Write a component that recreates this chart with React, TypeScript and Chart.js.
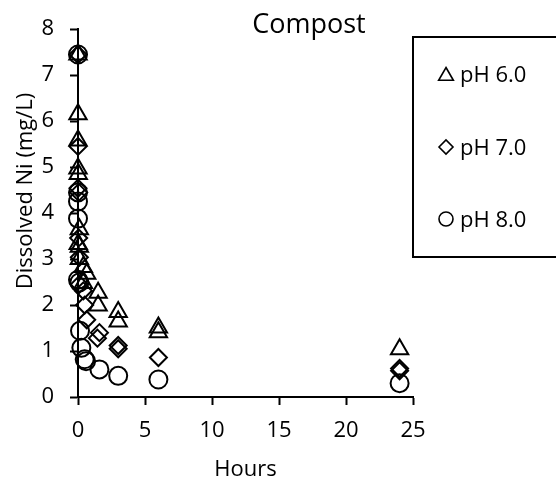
import { useEffect, useRef } from "react";
import { Chart, registerables } from "chart.js";

Chart.register(...registerables);

const chartTitle = "Compost";
const xTitle = "Hours";
const yTitle = "Dissolved Ni (mg/L)";
const seriesLabels = ["pH 6.0", "pH 7.0", "pH 8.0"];
const seriesShapes = ["triangle", "rectRot", "circle"];

const hoursPH6 = [0, 0, 0, 0, 0.02, 0.1, 0.02, 0.1, 0.1, 0.4, 0.65, 0.4, 1.5, 1.5, 3, 3, 6, 6, 24];
const niPH6 = [7.45, 6.15, 5.58, 4.97, 4.85, 3.65, 3.33, 3.27, 3.0, 2.83, 2.68, 2.48, 2.27, 1.99, 1.85, 1.64, 1.51, 1.41, 1.04];

const hoursPH7 = [0, 0, 0, 0.05, 0.05, 0.1, 0.1, 0.4, 0.5, 0.65, 1.6, 1.45, 3, 3, 6, 24, 24];
const niPH7 = [7.45, 5.45, 4.54, 4.45, 3.46, 3.04, 2.45, 2.31, 2.0, 1.68, 1.4, 1.28, 1.12, 1.05, 0.86, 0.62, 0.57];

const hoursPH8 = [0, 0, 0, 0, 0, 0.1, 0.15, 0.25, 0.5, 0.6, 1.6, 3, 6, 24];
const niPH8 = [7.45, 4.45, 4.25, 3.88, 2.55, 2.49, 1.44, 1.07, 0.82, 0.78, 0.6, 0.46, 0.38, 0.3];

const xMin = 0;
const xMax = 25;
const xStep = 5;
const yMin = 0;
const yMax = 8;
const yStep = 1;

const FONT = "'Open Sans'";

function toPoints(xs: number[], ys: number[]) {
  return xs.map((x, i) => ({ x, y: ys[i] }));
}

function drawMarker(ctx: CanvasRenderingContext2D, shape: string, x: number, y: number, r: number) {
  ctx.beginPath();
  if (shape === "triangle") {
    ctx.moveTo(x, y - r);
    ctx.lineTo(x + r * 0.866, y + r * 0.5);
    ctx.lineTo(x - r * 0.866, y + r * 0.5);
    ctx.closePath();
  } else if (shape === "rectRot") {
    ctx.moveTo(x - r, y);
    ctx.lineTo(x, y - r);
    ctx.lineTo(x + r, y);
    ctx.lineTo(x, y + r);
    ctx.closePath();
  } else {
    ctx.arc(x, y, r, 0, Math.PI * 2);
  }
  ctx.stroke();
}

const overlayPlugin = {
  id: "overlay",
  afterDraw(chart: any) {
    const ctx: CanvasRenderingContext2D = chart.ctx;
    ctx.save();
    ctx.fillStyle = "#000";
    ctx.strokeStyle = "#000";

    // chart title
    ctx.font = `27px ${FONT}`;
    ctx.textAlign = "center";
    ctx.textBaseline = "alphabetic";
    ctx.fillText(chartTitle, 309, 33);

    // y axis title
    ctx.save();
    ctx.translate(32, 191);
    ctx.rotate(-Math.PI / 2);
    ctx.font = `22px ${FONT}`;
    ctx.textAlign = "center";
    ctx.fillText(yTitle, 0, 0);
    ctx.restore();

    // legend box
    ctx.lineWidth = 2;
    ctx.strokeRect(413, 37, 160, 220);

    const rowsY = [74, 147, 219];
    const sizes = [8.5, 7, 7];
    ctx.font = `22px ${FONT}`;
    ctx.textAlign = "left";
    seriesLabels.forEach((label, i) => {
      ctx.lineWidth = 1.6;
      const my = seriesShapes[i] === "triangle" ? rowsY[i] + 2 : rowsY[i];
      drawMarker(ctx, seriesShapes[i], 446, my, sizes[i]);
      ctx.fillText(label, 460, rowsY[i] + 8);
    });
    ctx.restore();
  },
};

export default function App() {
  const canvasRef = useRef<HTMLCanvasElement | null>(null);

  useEffect(() => {
    const canvas = canvasRef.current;
    if (!canvas) return;
    const seriesData = [
      toPoints(hoursPH6, niPH6),
      toPoints(hoursPH7, niPH7),
      toPoints(hoursPH8, niPH8),
    ];
    const radii = [10, 8.5, 9];
    const chart = new Chart(canvas, {
      type: "scatter",
      data: {
        datasets: seriesLabels.map((label, i) => ({
          label,
          data: seriesData[i],
          pointStyle: seriesShapes[i] as any,
          pointRadius: radii[i],
          pointHoverRadius: radii[i],
          pointBorderWidth: 2,
          pointBorderColor: "#000",
          pointBackgroundColor: "rgba(0,0,0,0)",
          borderColor: "#000",
          backgroundColor: "rgba(0,0,0,0)",
          showLine: false,
          clip: false as any,
        })),
      },
      options: {
        responsive: false,
        animation: false,
        devicePixelRatio: 1,
        layout: { padding: { top: 15, right: 143, bottom: 0, left: 0 } },
        plugins: {
          legend: { display: false },
          tooltip: { enabled: false },
          title: { display: false },
        },
        scales: {
          x: {
            type: "linear",
            min: xMin,
            max: xMax,
            afterFit: (scale: any) => {
              scale.height = 91;
            },
            ticks: {
              stepSize: xStep,
              color: "#000",
              font: { family: FONT, size: 22 },
              padding: 13,
              maxRotation: 0,
            },
            grid: {
              display: true,
              drawOnChartArea: false,
              drawTicks: true,
              tickLength: 8,
              tickWidth: 2,
              tickColor: "#000",
            },
            border: { display: true, color: "#000", width: 2 },
            title: {
              display: true,
              text: xTitle,
              color: "#000",
              font: { family: FONT, size: 22 },
              padding: { top: 0, bottom: 5 },
            },
          },
          y: {
            type: "linear",
            min: yMin,
            max: yMax,
            afterFit: (scale: any) => {
              scale.width = 78;
            },
            ticks: {
              stepSize: yStep,
              color: "#000",
              font: { family: FONT, size: 22 },
              padding: 16,
            },
            grid: {
              display: true,
              drawOnChartArea: false,
              drawTicks: true,
              tickLength: 8,
              tickWidth: 2,
              tickColor: "#000",
            },
            border: { display: true, color: "#000", width: 2 },
          },
        },
      },
      plugins: [overlayPlugin],
    });
    return () => chart.destroy();
  }, []);

  return (
    <div style={{ position: "absolute", left: 0, top: 0, width: 556, height: 488, background: "#fff" }}>
      <canvas ref={canvasRef} width={556} height={488} style={{ width: 556, height: 488, display: "block" }} />
    </div>
  );
}
